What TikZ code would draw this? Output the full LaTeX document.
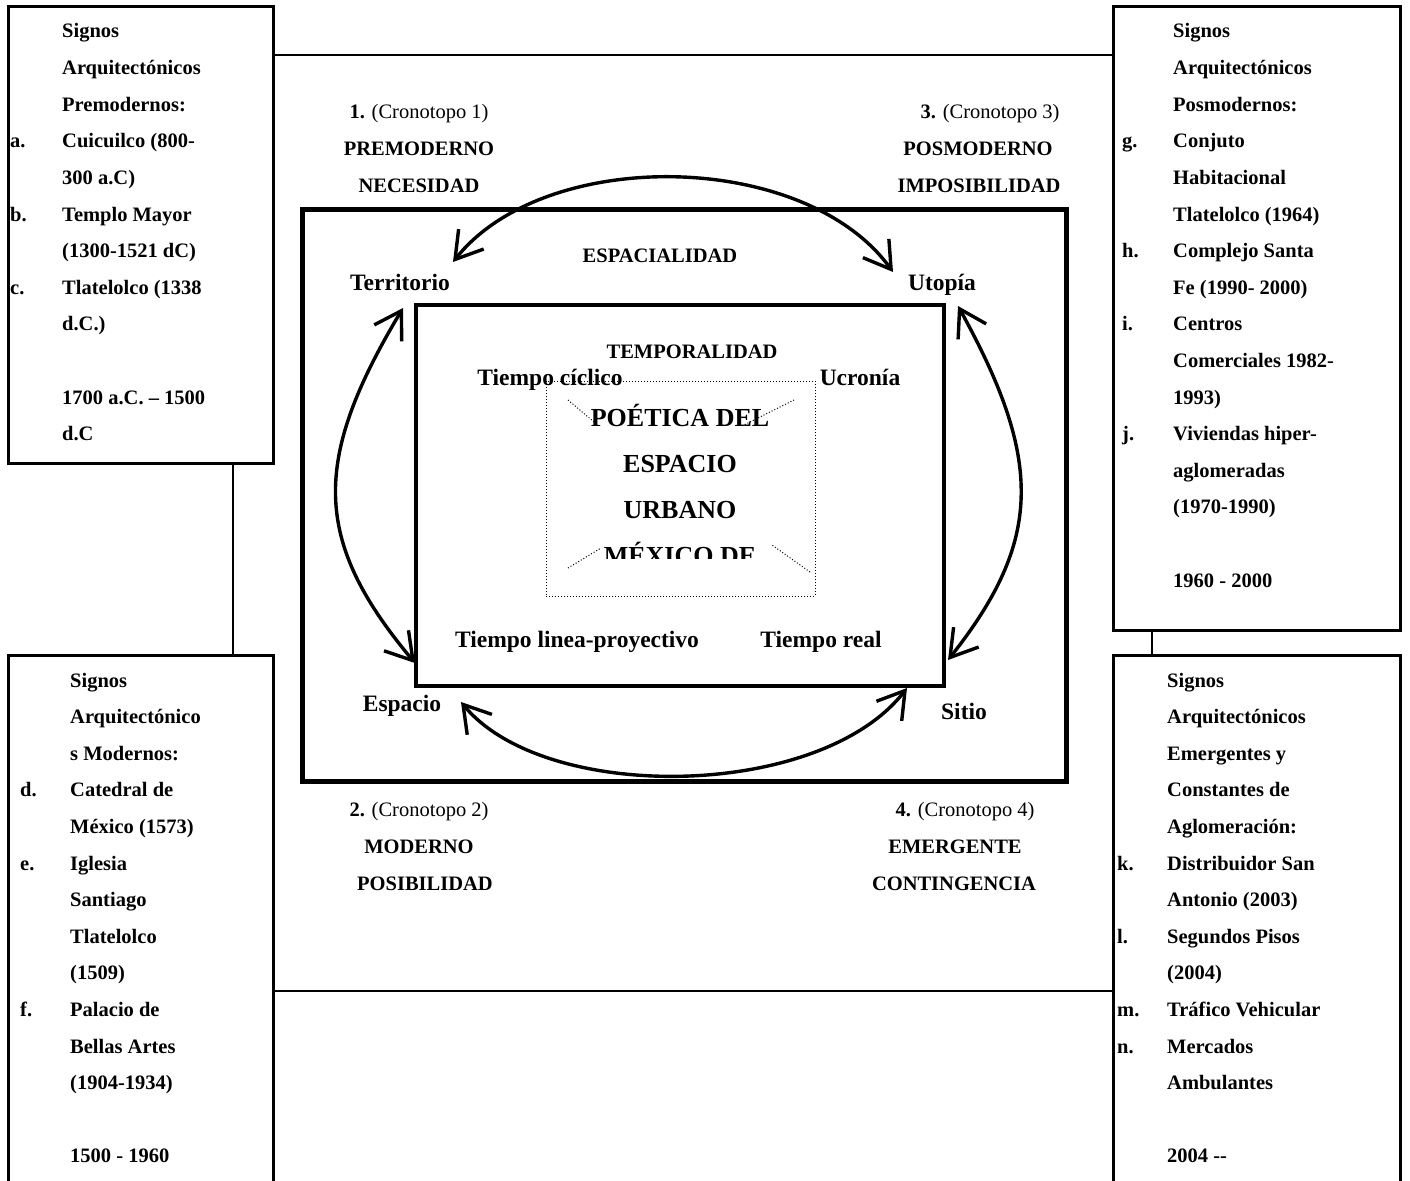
\documentclass[tikz,border=0pt]{standalone}
\usepackage{fontspec}
\setmainfont{Liberation Serif}
\usetikzlibrary{arrows.meta,positioning,calc}
\tikzset{
  signbox/.style={draw,line width=3pt,anchor=north west,inner sep=0pt,outer sep=0pt},
  frame/.style={draw,anchor=north west,inner sep=0pt,outer sep=0pt},
  link/.style={line width=2.5pt},
  turn/.style={{Straight Barb[length=26pt,width=32pt]}-{Straight Barb[length=26pt,width=32pt]},
               line width=3.4pt},
  itemtxt/.style={anchor=base west,inner sep=0pt,font=\bfseries\fontsize{20.5}{24}\selectfont},
  era/.style={anchor=base,inner sep=0pt,font=\bfseries\fontsize{20.5}{24}\selectfont},
  pole/.style={anchor=base,inner sep=0pt,font=\bfseries\fontsize{23.5}{28}\selectfont},
  title/.style={anchor=base,inner sep=0pt,font=\bfseries\fontsize{26}{30}\selectfont},
  diag/.style={dotted,line width=1pt},
}
\begin{document}
\begin{tikzpicture}[x=1pt,y=-1pt]
  \clip (0,0) rectangle (1410,1180);
  \fill[white] (0,0) rectangle (1410,1180);
  % the four boxes of signs
  \node[signbox,minimum width=265,minimum height=456] (premod) at (8,7) {};
  \node[signbox,minimum width=265,minimum height=560] (mod) at (8,655) {};
  \node[signbox,minimum width=287,minimum height=623] (posmod) at (1113,7) {};
  \node[signbox,minimum width=287,minimum height=560] (emerg) at (1113,655) {};
  \coordinate (toprow) at (0,55);
  \coordinate (botrow) at (0,991);
  \coordinate (leftcol) at (233,0);
  \coordinate (rightcol) at (1152,0);
  \draw[link] (premod.east |- toprow) -- (posmod.west |- toprow);
  \draw[link] (mod.east |- botrow) -- (emerg.west |- botrow);
  \draw[link] (premod.south -| leftcol) -- (mod.north -| leftcol);
  \draw[link] (posmod.south -| rightcol) -- (emerg.north -| rightcol);
  \foreach \n/\l/\t in {0//Signos,1//Arquitectónicos,2//Premodernos:,3/a./Cuicuilco (800-,
      4//300 a.C),5/b./Templo Mayor,6//(1300-1521 dC),7/c./Tlatelolco (1338,8//d.C.),
      10//1700 a.C. – 1500,11//d.C}{
    \node[itemtxt] (pm-l\n) at (10,{38+36.6*\n}) {\l};
    \node[itemtxt] (pm-t\n) at (62,{38+36.6*\n}) {\t};}
  \foreach \n/\l/\t in {0//Signos,1//Arquitectónico,2//s Modernos:,3/d./Catedral de,
      4//México (1573),5/e./Iglesia,6//Santiago,7//Tlatelolco,8//(1509),9/f./Palacio de,
      10//Bellas Artes,11//(1904-1934),13//1500 - 1960}{
    \node[itemtxt] (mo-l\n) at (20,{687+36.6*\n}) {\l};
    \node[itemtxt] (mo-t\n) at (70,{687+36.6*\n}) {\t};}
  \foreach \n/\l/\t in {0//Signos,1//Arquitectónicos,2//Posmodernos:,3/g./Conjuto,
      4//Habitacional,5//Tlatelolco (1964),6/h./Complejo Santa,7//Fe (1990- 2000),
      8/i./Centros,9//Comerciales 1982-,10//1993),11/j./Viviendas hiper-,12//aglomeradas,
      13//(1970-1990),15//1960 - 2000}{
    \node[itemtxt] (ps-l\n) at (1122,{38+36.6*\n}) {\l};
    \node[itemtxt] (ps-t\n) at (1173,{38+36.6*\n}) {\t};}
  \foreach \n/\l/\t in {0//Signos,1//Arquitectónicos,2//Emergentes y,3//Constantes de,
      4//Aglomeración:,5/k./Distribuidor San,6//Antonio (2003),7/l./Segundos Pisos,
      8//(2004),9/m./Tráfico Vehicular,10/n./Mercados,11//Ambulantes,13//2004 -{}-}{
    \node[itemtxt] (em-l\n) at (1117,{687+36.6*\n}) {\l};
    \node[itemtxt] (em-t\n) at (1167,{687+36.6*\n}) {\t};}
  % spatiality and temporality frames
  \node[frame,line width=5pt,minimum width=764,minimum height=572] (spatial) at (302,209) {};
  \node[frame,line width=4.5pt,minimum width=528,minimum height=381] (temporal) at (416,305) {};
  \node[frame,dotted,line width=1pt,minimum width=269,minimum height=215] (poetic) at (546,381) {};
  \draw[diag] (568,400) -- (594,422);
  \draw[diag] (794,400) -- (744,425);
  \draw[diag] (568,568) -- (601,548);
  \draw[diag] (810,572) -- (772,545);
  \begin{scope}
    \clip (546,381) rectangle (815,558);
    \node[title] (poet1) at (680,426) {POÉTICA DEL};
    \node[title] (poet2) at (680,472) {ESPACIO};
    \node[title] (poet3) at (680,518) {URBANO};
    \node[title] (poet4) at (680,564) {MÉXICO DE};
  \end{scope}
  % chronotopes
  \node[era] (c1a) at (419,118) {1. {\mdseries(Cronotopo 1)}};
  \node[era] (c1b) at (419,155) {PREMODERNO};
  \node[era] (c1c) at (419,192) {NECESIDAD};
  \node[era] (c3a) at (990,118) {3. {\mdseries(Cronotopo 3)}};
  \node[era] (c3b) at (978,155) {POSMODERNO};
  \node[era] (c3c) at (979,192) {IMPOSIBILIDAD};
  \node[era] (c2a) at (419,816) {2. {\mdseries(Cronotopo 2)}};
  \node[era] (c2b) at (419,853) {MODERNO};
  \node[era] (c2c) at (425,890) {POSIBILIDAD};
  \node[era] (c4a) at (965,816) {4. {\mdseries(Cronotopo 4)}};
  \node[era] (c4b) at (955,853) {EMERGENTE};
  \node[era] (c4c) at (954,890) {CONTINGENCIA};
  \node[era] (espac) at (660,262) {ESPACIALIDAD};
  \node[era] (tempo) at (692,358) {TEMPORALIDAD};
  \node[pole] (terr) at (400,290) {Territorio};
  \node[pole] (utop) at (942,290) {Utopía};
  \node[pole] (esp) at (402,711) {Espacio};
  \node[pole] (sitio) at (964,719) {Sitio};
  \node[pole] (cicl) at (550,385) {Tiempo cíclico};
  \node[pole] (ucro) at (860,385) {Ucronía};
  \node[pole] (lineal) at (577,647) {Tiempo linea-proyectivo};
  \node[pole] (real) at (821,647) {Tiempo real};
  % the four turns of the cycle
  \coordinate (terr-r) at (453,262);
  \coordinate (utop-l) at (893,272);
  \coordinate (terr-d) at (403,308);
  \coordinate (esp-u) at (415,663);
  \coordinate (utop-d) at (958,306);
  \coordinate (sitio-u) at (948,660);
  \coordinate (esp-r) at (461,702);
  \coordinate (sitio-l) at (907,688);
  \draw[turn] (terr-r) .. controls (545,146) and (805,150) .. (utop-l);
  \draw[turn] (terr-d) .. controls (312,460) and (312,540) .. (esp-u);
  \draw[turn] (utop-d) .. controls (1043,460) and (1043,540) .. (sitio-u);
  \draw[turn] (esp-r) .. controls (545,804) and (820,800) .. (sitio-l);
\end{tikzpicture}
\end{document}
